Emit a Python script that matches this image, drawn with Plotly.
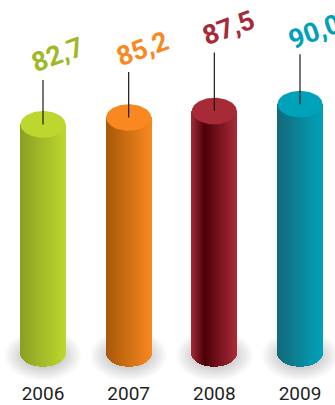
import math
import plotly.graph_objects as go

years = ["2006", "2007", "2008", "2009"]
values = [82.7, 85.2, 87.5, 90.0]
value_labels = ["82,7", "85,2", "87,5", "90,0"]

# Colour stops across each cylinder, left to right
body_stops = [
    [(0.0, "#8a9f22"), (1.0, "#bdd72e")],
    [(0.0, "#a65808"), (1.0, "#f8881f")],
    [(0.0, "#a02c38"), (0.3, "#4c0008"), (1.0, "#a62b37")],
    [(0.0, "#14687a"), (1.0, "#00a2b9")],
]
cap_colours = ["#bdd72e", "#f8881f", "#a62b37", "#00a2b9"]
label_colours = ["#9fb827", "#f8881f", "#a62b37", "#00a2b9"]

# Leader length and label lift above each cap, in value units
leader_units = [16.0, 16.4, 21.2, 18.0]
label_lift = [25.1, 24.8, 30.1, 26.2]

W, H = 335, 405
PX_PER_UNIT = 2.805
PX_PER_CAT = 85.67
BASE_PX = 358
FIRST_PX = 43
AXIS_BOTTOM_PX = 385
HALF_W = 22.5 / PX_PER_CAT
RY = 13.5 / PX_PER_UNIT
SLICES = 45
SHADOW_STEPS = 24


def hex_rgb(c):
    return tuple(int(c[i:i + 2], 16) for i in (1, 3, 5))


def blend(stops, t):
    for (t0, c0), (t1, c1) in zip(stops, stops[1:]):
        if t <= t1:
            f = (t - t0) / (t1 - t0)
            a, b = hex_rgb(c0), hex_rgb(c1)
            return "rgb(%d,%d,%d)" % tuple(round(p + (q - p) * f) for p, q in zip(a, b))
    return stops[-1][1]


fig = go.Figure()
shapes = []
annotations = []

for i, (val, stops) in enumerate(zip(values, body_stops)):
    # Soft floor shadow built from stacked translucent ellipses
    for k in range(SHADOW_STEPS):
        t = k / (SHADOW_STEPS - 1)
        rx = (20 + 19 * t) / PX_PER_CAT
        ry = (12 + 14 * t) / PX_PER_UNIT
        cy = -0.8
        shapes.append(dict(
            type="circle", xref="x", yref="y", layer="below",
            x0=i - rx, x1=i + rx, y0=cy - ry, y1=cy + ry,
            fillcolor="rgba(70,70,80,0.012)", line=dict(width=0),
        ))

    # Cylinder body: thin vertical slices with a rounded lower edge
    xs, bases, heights, colours = [], [], [], []
    for s in range(SLICES):
        u = (s + 0.5) / SLICES
        n = 2 * u - 1
        low = -RY * math.sqrt(1 - n * n)
        xs.append(i - HALF_W + 2 * HALF_W * u)
        bases.append(low)
        heights.append(val - low)
        colours.append(blend(stops, u))
    fig.add_trace(go.Bar(
        x=xs, y=heights, base=bases, width=2 * HALF_W / SLICES,
        marker=dict(color=colours, line=dict(width=0)),
        hoverinfo="skip",
    ))

    # Top cap
    cap_x, cap_y = [], []
    for a in range(73):
        th = 2 * math.pi * a / 72
        cap_x.append(i + HALF_W * math.cos(th))
        cap_y.append(val + RY * math.sin(th))
    fig.add_trace(go.Scatter(
        x=cap_x, y=cap_y, mode="lines", fill="toself",
        fillcolor=cap_colours[i], line=dict(width=0, color=cap_colours[i]),
        hoverinfo="skip",
    ))

    # Leader line from the cap centre up towards the value label
    fig.add_trace(go.Scatter(
        x=[i, i], y=[val, val + leader_units[i]], mode="lines",
        line=dict(color="#1a1a1a", width=1.2), hoverinfo="skip",
    ))

    annotations.append(dict(
        x=i + 0.165, y=val + label_lift[i], xref="x", yref="y",
        text=value_labels[i], showarrow=False, textangle=-20,
        font=dict(family="Roboto", size=27, color=label_colours[i], weight=700),
    ))

fig.update_layout(
    width=W, height=H,
    margin=dict(l=0, r=0, t=0, b=H - AXIS_BOTTOM_PX, pad=0),
    paper_bgcolor="white", plot_bgcolor="rgba(0,0,0,0)",
    showlegend=False, barmode="overlay", bargap=0,
    shapes=shapes, annotations=annotations,
    xaxis=dict(
        range=[-FIRST_PX / PX_PER_CAT, (W - FIRST_PX) / PX_PER_CAT],
        tickmode="array", tickvals=list(range(len(years))), ticktext=years,
        showgrid=False, zeroline=False, showline=False, ticks="",
        ticklabelstandoff=0,
        tickfont=dict(family="Roboto", size=19, color="#1f1f1f"),
    ),
    yaxis=dict(
        range=[-(AXIS_BOTTOM_PX - BASE_PX) / PX_PER_UNIT, BASE_PX / PX_PER_UNIT],
        visible=False, showgrid=False, zeroline=False,
    ),
)

fig.write_html("out.html", config=dict(displayModeBar=False))
